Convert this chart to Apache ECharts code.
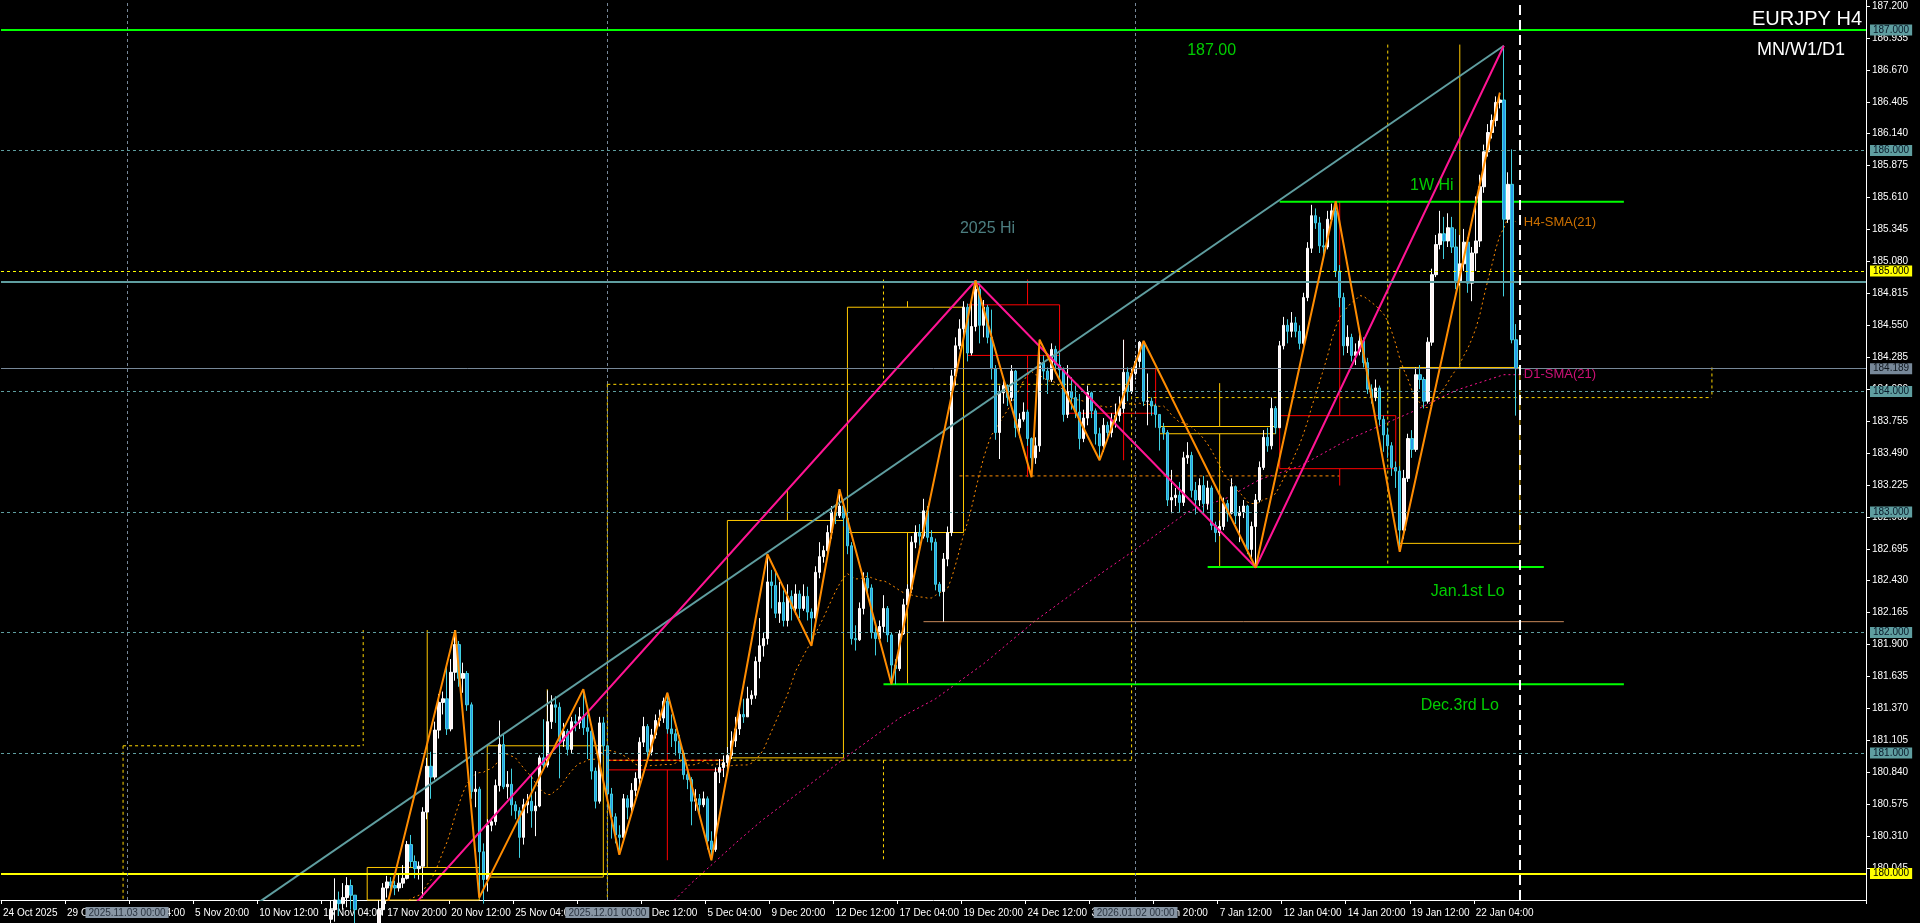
<!DOCTYPE html>
<html><head><meta charset="utf-8">
<script src="https://cdn.jsdelivr.net/npm/echarts@6/dist/echarts.min.js"></script>
<style>html,body{margin:0;padding:0;background:#000;}#c{width:1920px;height:923px;}</style>
</head><body><div id="c"></div>
<script>
// ---------------- DATA ----------------
const HOLIDAYS = ['2025-12-25', '2026-01-01'];
const TOTAL_BARS = 466;      // bars across the chart (incl. right shift)
const FIRST_BAR = 72;        // index of first bar in arrays below
const LAST_BAR_LINE = 379;   // white dashed marker

const closes = [
179.20,179.30,179.25,179.40,179.45,179.55,179.50,179.60,179.65,179.62,
179.70,179.78,179.75,179.80,179.90,179.82,179.70,179.60,179.55,179.50,
179.45,179.55,179.70,179.88,179.93,179.90,179.88,179.92,179.96,180.24,
180.10,180.04,180.06,180.51,180.89,180.80,181.19,181.42,181.45,181.20,
181.67,181.90,181.62,181.66,181.40,180.68,180.70,180.18,179.95,180.40,
180.43,180.73,181.07,180.72,180.74,180.57,180.52,180.30,180.57,180.60,
180.52,180.56,180.96,180.90,181.26,181.40,181.38,181.10,181.18,181.03,
181.26,181.25,181.30,181.21,181.18,180.85,180.60,181.25,181.06,180.66,
180.47,180.32,180.30,180.62,180.55,180.69,180.79,181.09,181.22,181.01,
181.15,181.27,181.29,181.43,181.20,181.16,181.10,181.00,180.82,180.78,
180.60,180.62,180.57,180.62,180.27,180.20,180.84,180.88,180.92,180.98,
181.10,181.20,181.32,181.30,181.45,181.48,181.76,181.89,181.95,182.42,
182.39,182.16,182.25,182.10,182.30,182.20,182.32,182.20,182.30,182.17,
182.12,182.50,182.63,182.68,182.83,183.00,182.97,183.05,182.95,182.72,
181.95,181.94,182.20,182.45,182.37,182.00,181.95,182.05,182.20,181.98,
181.73,181.70,181.99,182.23,182.36,182.75,182.83,182.80,183.01,182.79,
182.75,182.40,182.34,182.61,182.83,184.13,184.38,184.52,184.70,184.32,
184.54,184.85,184.55,184.70,184.45,184.19,183.66,183.99,184.05,183.95,
184.17,183.70,183.77,183.83,183.61,183.45,183.55,184.24,184.17,184.10,
184.35,184.22,184.18,183.81,184.00,183.95,183.83,183.61,183.78,183.99,
183.84,183.65,183.55,183.72,183.66,183.76,183.80,183.86,184.16,184.00,
184.15,184.25,184.41,183.92,183.92,183.88,183.81,183.70,183.66,183.10,
183.12,183.14,183.08,183.45,183.47,183.18,183.10,183.22,183.07,183.20,
182.89,182.83,182.88,183.07,182.99,183.21,182.97,183.00,183.05,182.69,
182.88,183.10,183.37,183.62,183.55,183.86,183.70,184.38,184.55,184.50,
184.57,184.50,184.40,184.78,185.19,185.46,185.40,185.21,185.20,185.43,
185.50,185.00,184.78,184.38,184.45,184.30,184.33,184.42,184.24,184.02,
183.95,184.03,183.77,183.64,183.55,183.37,183.34,182.85,183.28,183.61,
183.52,184.14,184.10,183.92,184.41,184.97,185.22,185.31,185.25,185.36,
185.20,184.92,185.06,185.24,184.90,185.15,185.25,185.70,185.99,186.15,
186.25,186.40,186.42,185.43,185.72,184.43,184.19];

const highs = [
179.35,179.40,179.42,179.50,179.55,179.65,179.62,179.70,179.75,179.72,
179.78,179.96,179.85,179.92,179.97,179.95,179.80,179.72,179.65,179.62,
179.58,179.68,179.78,179.92,179.98,179.97,179.94,180.00,180.07,180.27,
180.32,180.15,180.10,180.55,180.96,181.01,181.26,181.49,181.51,181.73,
181.78,182.02,181.93,181.75,181.68,181.42,180.85,180.72,180.25,180.45,
180.46,180.78,181.27,181.15,180.85,180.87,180.60,180.55,180.62,180.66,
180.82,180.68,180.98,181.28,181.52,181.48,181.47,181.42,181.25,181.20,
181.30,181.32,181.38,181.53,181.32,181.24,180.88,181.30,181.30,180.96,
180.71,180.50,180.40,180.66,180.65,180.75,180.84,181.13,181.30,181.24,
181.20,181.32,181.36,181.46,181.50,181.32,181.20,181.15,181.02,180.88,
180.80,180.70,180.66,180.68,180.64,180.35,180.88,180.95,180.98,181.05,
181.18,181.30,181.40,181.45,181.55,181.52,181.80,182.12,182.00,182.65,
182.52,182.50,182.42,182.35,182.40,182.35,182.40,182.35,182.40,182.38,
182.20,182.55,182.75,182.72,182.89,183.05,183.06,183.19,183.10,183.00,
182.75,182.06,182.25,182.50,182.50,182.40,182.05,182.10,182.31,182.22,
182.00,181.78,182.02,182.28,182.40,182.80,182.89,182.90,183.11,183.05,
182.85,182.78,182.42,182.66,182.88,184.18,184.45,184.60,184.75,184.73,
184.76,184.92,184.88,184.76,184.72,184.68,184.22,184.05,184.12,184.06,
184.22,184.18,183.82,183.91,183.85,183.62,183.62,184.43,184.30,184.20,
184.40,184.38,184.32,184.20,184.22,184.12,184.05,183.98,183.85,184.05,
184.00,183.86,183.70,183.78,183.75,183.82,183.90,183.96,184.43,184.20,
184.20,184.30,184.42,184.42,184.15,183.95,183.90,183.80,183.74,183.68,
183.35,183.20,183.25,183.50,183.58,183.50,183.25,183.28,183.30,183.26,
183.22,182.92,182.93,183.12,183.10,183.28,183.22,183.05,183.10,183.06,
182.92,183.15,183.42,183.68,183.70,183.95,183.88,184.42,184.62,184.60,
184.66,184.62,184.55,184.82,185.24,185.55,185.52,185.45,185.35,185.50,
185.56,185.58,185.05,184.82,184.55,184.48,184.40,184.52,184.45,184.28,
184.06,184.10,184.05,183.80,183.70,183.58,183.42,183.38,183.35,183.65,
183.68,184.20,184.22,184.12,184.45,185.02,185.30,185.50,185.45,185.48,
185.45,185.35,185.30,185.35,185.28,185.20,185.62,185.80,186.05,186.22,
186.30,186.45,186.48,186.87,185.82,186.01,184.56];

const lows = [
179.05,179.15,179.18,179.20,179.30,179.40,179.42,179.45,179.50,179.52,
179.55,179.60,179.65,179.70,179.72,179.70,179.55,179.45,179.40,179.35,
179.30,179.40,179.50,179.65,179.80,179.85,179.82,179.85,179.88,179.95,
180.05,179.96,179.95,179.80,180.45,180.62,180.78,181.12,181.32,181.15,
181.18,181.60,181.55,181.50,181.35,180.62,180.55,179.80,179.75,179.85,
180.35,180.40,180.68,180.70,180.62,180.48,180.45,180.13,180.24,180.50,
180.38,180.31,180.55,180.88,180.88,181.20,181.25,180.79,181.05,180.98,
181.00,181.18,181.20,181.15,180.95,180.78,180.54,180.58,180.98,180.55,
180.29,180.25,180.155,180.28,180.45,180.50,180.64,180.72,181.05,180.96,
180.98,181.12,181.22,181.25,181.16,181.05,180.98,180.95,180.78,180.70,
180.40,180.52,180.50,180.55,180.20,180.11,180.18,180.75,180.80,180.85,
180.95,181.05,181.15,181.25,181.30,181.40,181.45,181.62,181.80,181.90,
182.20,182.12,182.08,182.05,182.05,182.10,182.15,182.12,182.18,182.10,
181.89,182.05,182.45,182.58,182.62,182.78,182.90,182.95,182.88,182.65,
181.90,181.85,181.93,182.15,182.30,181.95,181.81,181.92,182.00,181.92,
181.57,181.57,181.68,181.98,182.20,182.33,182.70,182.72,182.78,182.75,
182.68,182.35,182.30,182.09,182.55,182.80,184.05,184.35,184.45,184.25,
184.30,184.50,184.40,184.45,184.40,184.10,183.60,183.44,183.90,183.88,
183.92,183.62,183.62,183.75,183.55,183.29,183.40,183.50,184.10,183.98,
184.08,184.15,184.10,183.75,183.78,183.85,183.78,183.52,183.58,183.72,
183.78,183.56,183.43,183.50,183.60,183.62,183.70,183.75,183.82,183.92,
183.98,184.10,184.20,183.88,183.72,183.80,183.70,183.51,183.60,183.05,
182.99,183.05,183.00,183.05,183.40,183.12,182.98,183.05,183.00,183.02,
182.85,182.75,182.80,182.85,182.92,182.98,182.90,182.75,182.95,182.65,
182.62,182.54,183.08,183.35,183.50,183.52,183.65,183.80,184.35,184.40,
184.45,184.45,184.35,184.38,184.75,185.15,185.35,185.15,185.10,185.18,
185.40,184.95,184.70,184.30,184.32,184.25,184.22,184.30,184.20,183.98,
183.90,183.92,183.72,183.50,183.45,183.30,183.20,182.67,182.78,183.25,
183.45,183.50,184.02,183.86,183.90,184.38,184.95,185.18,185.10,185.20,
185.15,184.85,184.88,185.00,184.82,184.75,185.00,185.20,185.65,185.95,
186.10,186.20,186.35,184.79,185.40,184.40,183.80];

// swing lines: [bar index, price]
const zigzag = [[95,179.60],[113,182.02],[119,179.80],[145,181.53],[154,180.155],[166,181.50],[177,180.11],
  [191,182.65],[202,181.89],[209,183.19],[222,181.57],[243,184.92],[257,183.29],[259,184.43],[274,183.43],
  [285,184.42],[313,182.54],[333,185.58],[349,182.67],[374,186.48]];
const pinkLine = [[96,179.49],[243,184.92],[313,182.54],[375,186.87]];
const tealTrend = [[63,179.74],[375,186.87]];
const d1Sma = [[166,179.72],[172,179.92],[178,180.10],[184,180.28],[190,180.45],[200,180.70],[212,181.00],
  [224,181.29],[233,181.45],[245,181.74],[258,182.10],[270,182.39],[283,182.69],[296,183.00],[306,183.12],
  [314,183.27],[324,183.38],[336,183.60],[352,183.83],[363,184.01],[375,184.14],[380,184.14]];

// price levels
const level187 = 187.0, level185 = 185.0, level180 = 180.0;
const hi2025 = 184.906, bidPrice = 184.189;
// labelled key lines: [fromIdx, toIdx, price]
const weekHi = [319, 405, 185.576];
const jan1Lo = [301, 385, 182.544];
const dec3Lo = [220, 405, 181.571];
// weekly candle boxes: [x1, x2, bodyLow, bodyHigh, wickIdx, wickHigh, wickLow, bullish]
const weekBoxes = [
  [91,119,179.60,180.05,106,182.02,179.60,1],
  [121,150,179.97,181.06,136,181.53,179.97,1],
  [151,180,180.86,180.94,166,181.50,180.11,0],
  [181,210,180.96,182.93,196,183.19,180.96,1],
  [211,240,182.83,184.70,226,184.75,181.57,1],
  [241,264,184.30,184.72,256,184.93,183.29,0],
  [266,288,183.82,184.19,280,184.43,183.43,0],
  [289,318,183.65,183.71,304,184.07,182.54,1],
  [319,348,183.36,183.80,334,185.58,183.22,0],
  [349,379,182.74,184.20,364,186.88,182.74,1]];
// monthly range (dashed) segments
const monthSegs = [
  [[30,181.06],[90,181.06]],[[30,181.06],[30,179.78]],[[90,182.02],[90,181.06]],
  [[151,184.06],[282,184.06]],[[151,180.94],[282,180.94]],[[151,184.06],[151,179.78]],
  [[282,184.06],[282,180.94]],[[220,184.93],[220,184.06]],[[220,180.94],[220,180.10]],
  [[283,183.95],[427,183.95]],[[427,184.20],[427,183.95]],[[346,186.88],[346,182.54]]];
const orangeDash = [[239,183.30],[334,183.30]];
const tanLine = [[230,182.09],[390,182.09]];
// month separators: [bar index, label]
const monthSeparators = [[31,'2025.11.03 00:00'], [151,'2025.12.01 00:00'], [283,'2026.01.02 00:00']];

// text annotations: [idx, price, text]
const texts = {
  p187: [302, 186.83, '187.00'],
  hi2025: [246, 185.35, '2025 Hi'],
  wHi: [357, 185.71, '1W Hi'],
  janLo: [366, 182.34, 'Jan.1st Lo'],
  decLo: [364, 181.39, 'Dec.3rd Lo'],
  h4: [380, 185.40, 'H4-SMA(21)'],
  d1: [380, 184.14, 'D1-SMA(21)']
};

// ---------------- BUILD ----------------
const MON = ['Jan','Feb','Mar','Apr','May','Jun','Jul','Aug','Sep','Oct','Nov','Dec'];
const cats = [];
(function(){
  let t = Date.UTC(2025, 9, 24, 20);
  while (cats.length < TOTAL_BARS) {
    const d = new Date(t), dow = d.getUTCDay(), ds = d.toISOString().slice(0,10);
    if (dow !== 0 && dow !== 6 && HOLIDAYS.indexOf(ds) < 0) {
      const hh = String(d.getUTCHours()).padStart(2,'0');
      cats.push(cats.length === 0 ? d.getUTCDate()+' '+MON[d.getUTCMonth()]+' '+d.getUTCFullYear()
                                  : d.getUTCDate()+' '+MON[d.getUTCMonth()]+' '+hh+':00');
    }
    t += 4*3600e3;
  }
})();

const candle = [], sma = [];
for (let i = 0; i < TOTAL_BARS; i++) {
  const k = i - FIRST_BAR;
  if (k >= 0 && k < closes.length) {
    const o = k === 0 ? closes[0] : closes[k-1], c = closes[k];
    candle.push([o, c, Math.min(lows[k], o, c), Math.max(highs[k], o, c)]);
    if (k >= 20) { let s = 0; for (let j = k-20; j <= k; j++) s += closes[j]; sma.push(+(s/21).toFixed(4)); }
    else sma.push('-');
  } else { candle.push('-'); sma.push('-'); }
}

const TEAL = '#5F9EA0', YEL = '#FFFF00', GOLD = '#FFC800', LIME = '#00FF00';
const FONT = 'Liberation Sans';

function seg(pts, color, width, type, z) {
  return { type:'line', data: pts, symbol:'none', silent:true, animation:false, z: z||2,
    lineStyle:{ color, width, type: type||'solid' }, clip:true };
}
function hl(v, color, width, type, box, txtColor) {
  const o = { yAxis: v, lineStyle:{ color, width, type } };
  o.label = box ? { show:true, position:'end', distance:4, formatter: v.toFixed(3), backgroundColor: box,
      color: txtColor || '#000', padding:[1,3,0,3], fontSize:10, fontFamily: FONT } : { show:false };
  return o;
}

const segSeries = [];
monthSegs.forEach(s => segSeries.push(seg(s, '#FFD700', 1, [3,3], 2)));
segSeries.push(seg(orangeDash, '#FF8C00', 1, [3,3], 2));
segSeries.push(seg(tanLine, '#C8895A', 1, 'solid', 2));
const areas = [];
weekBoxes.forEach(b => {
  const col = b[7] ? GOLD : '#FF0000';
  areas.push([{ coord:[b[0], b[2]], itemStyle:{ color:'rgba(0,0,0,0)', borderColor: col, borderWidth:1 } },
              { coord:[b[1], b[3]] }]);
  if (b[5] > b[3]) segSeries.push(seg([[b[4], b[3]],[b[4], b[5]]], col, 1, 'solid', 2));
  if (b[6] < b[2]) segSeries.push(seg([[b[4], b[2]],[b[4], b[6]]], col, 1, 'solid', 2));
});
[weekHi, jan1Lo, dec3Lo].forEach(l => segSeries.push(seg([[l[0], l[2]],[l[1], l[2]]], LIME, 2, 'solid', 3)));

function txt(t, color, size, pos) {
  return { type:'scatter', symbolSize:0, silent:true, animation:false, z:10,
    data:[[t[0], t[1]]],
    label:{ show:true, position: pos || 'inside', distance:0, formatter: t[2], color, fontSize:size, fontFamily: FONT } };
}

const markLines = [
  hl(level187, LIME, 2, 'solid', TEAL, '#0a1a2a'),
  hl(186, TEAL, 1, [3,3], TEAL, '#0a1a2a'),
  hl(level185, YEL, 1, [3,3], YEL, '#000'),
  hl(hi2025, TEAL, 2, 'solid', null),
  hl(bidPrice, '#778899', 1, 'solid', '#778899', '#101820'),
  hl(184, TEAL, 1, [3,3], TEAL, '#0a1a2a'),
  hl(183, TEAL, 1, [3,3], TEAL, '#0a1a2a'),
  hl(182, TEAL, 1, [3,3], TEAL, '#0a1a2a'),
  hl(181, TEAL, 1, [3,3], TEAL, '#0a1a2a'),
  hl(level180, YEL, 2, 'solid', YEL, '#000')
];
monthSeparators.forEach(m => markLines.push({ xAxis: m[0], lineStyle:{ color:'#778899', width:1, type:[3,3] },
  label:{ show:true, position:'start', distance:7, formatter: m[1], backgroundColor:'#8896a4', color:'#2a3440',
    padding:[1,3,0,3], fontSize:10, fontFamily: FONT } }));
markLines.push({ xAxis: LAST_BAR_LINE, lineStyle:{ color:'#FFFFFF', width:2, type:[10,5] }, label:{show:false} });

const chart = echarts.init(document.getElementById('c'), null, { renderer:'canvas' });
chart.setOption({
  backgroundColor:'#000000',
  animation:false,
  textStyle:{ fontFamily: FONT },
  title:[
    { text:'EURJPY H4', right:53, top:4, textStyle:{ color:'#fff', fontSize:20, fontWeight:'normal', fontFamily:FONT } },
    { text:'MN/W1/D1', right:70, top:36, textStyle:{ color:'#fff', fontSize:18, fontWeight:'normal', fontFamily:FONT } }
  ],
  grid:{ left:0, right:54, top:0, bottom:23, containLabel:false },
  xAxis:{
    type:'category', data: cats, boundaryGap:true,
    axisLine:{ lineStyle:{ color:'#fff', width:1 } },
    axisTick:{ show:true, length:4, lineStyle:{ color:'#fff' }, interval:(i)=> i % 16 === 0 && i < LAST_BAR_LINE },
    axisLabel:{ color:'#fff', fontSize:10, fontFamily:FONT, align:'left', margin:8,
      interval:(i)=> i % 16 === 0 && i < LAST_BAR_LINE },
    splitLine:{ show:false }
  },
  yAxis:[
    { type:'value', position:'right', min:179.78, max:187.25, scale:true,
      axisLine:{ show:true, lineStyle:{ color:'#fff', width:1 } }, axisTick:{show:false}, axisLabel:{show:false}, splitLine:{show:false} },
    { type:'value', position:'right', min:0, max:7.47, interval:0.265,
      axisLine:{ show:false }, axisTick:{ show:true, length:4, lineStyle:{ color:'#fff' } },
      axisLabel:{ color:'#fff', fontSize:10, fontFamily:FONT, margin:6, showMinLabel:false, showMaxLabel:false,
        formatter:(v)=> (179.78 + v).toFixed(3) },
      splitLine:{ show:false } }
  ],
  series:[
    { type:'line', data: sma, symbol:'none', silent:true, z:2, connectNulls:false,
      lineStyle:{ color:'#FF8C00', width:1, type:[2,3] },
      markLine:{ symbol:['none','none'], silent:true, animation:false, data: markLines },
      markArea:{ silent:true, animation:false, data: areas } },
    { type:'line', data: d1Sma, symbol:'none', silent:true, z:2, lineStyle:{ color:'#FF1493', width:1, type:[2,3] } },
    ...segSeries,
    { type:'candlestick', data: candle, barWidth:3, z:3, silent:true,
      itemStyle:{ color:'#FFF4F4', color0:'#2898E8', borderColor:'#FFFFFF', borderColor0:'#40D0E0', borderWidth:1 } },
    seg(tealTrend, TEAL, 2, 'solid', 4),
    seg(pinkLine, '#FF1493', 2, 'solid', 4),
    seg(zigzag, '#FF8C00', 2, 'solid', 5),
    txt(texts.p187, LIME, 16),
    txt(texts.hi2025, TEAL, 16),
    txt(texts.wHi, LIME, 16),
    txt(texts.janLo, LIME, 16),
    txt(texts.decLo, LIME, 16),
    txt(texts.h4, '#FF8C00', 13, 'right'),
    txt(texts.d1, '#FF1493', 13, 'right')
  ]
});
</script></body></html>
